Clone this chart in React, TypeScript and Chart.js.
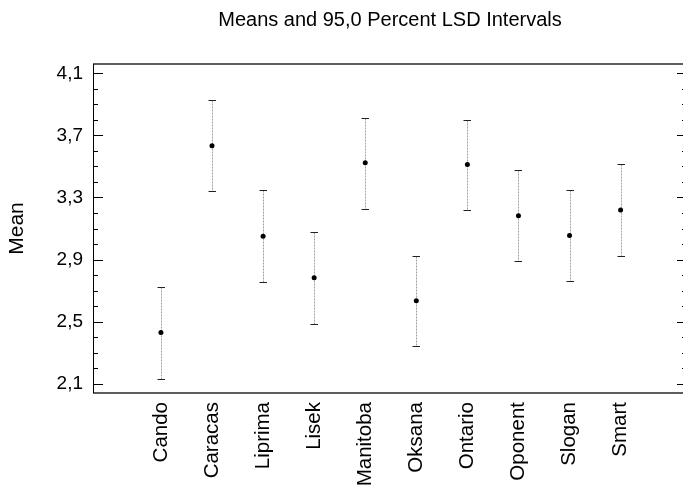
import React, { useEffect, useRef } from 'react';
import { Chart, registerables } from 'chart.js';

Chart.register(...registerables);

// ---- data ----
const categories = ['Cando', 'Caracas', 'Liprima', 'Lisek', 'Manitoba', 'Oksana', 'Ontario', 'Oponent', 'Slogan', 'Smart'];
const means = [2.43, 3.633, 3.05, 2.783, 3.523, 2.635, 3.512, 3.182, 3.055, 3.22];
const upperLimits = [2.72, 3.93, 3.345, 3.077, 3.815, 2.924, 3.802, 3.474, 3.35, 3.513];
const lowerLimits = [2.132, 3.339, 2.757, 2.487, 3.225, 2.341, 3.216, 2.89, 2.763, 2.924];
const yMajorTicks = [2.1, 2.5, 2.9, 3.3, 3.7, 4.1];
const yMinorPerMajor = 3;
const titleText = 'Means and 95,0 Percent LSD Intervals';
const yTitleText = 'Mean';

const FONT = '"Liberation Sans", Arial, Helvetica, sans-serif';

const isMajor = (v: number) => yMajorTicks.some((m) => Math.abs(m - v) < 1e-6);

const buildYTicks = () => {
  const out: { value: number }[] = [];
  for (let i = 0; i < yMajorTicks.length; i++) {
    out.push({ value: yMajorTicks[i] });
    if (i < yMajorTicks.length - 1) {
      const step = (yMajorTicks[i + 1] - yMajorTicks[i]) / (yMinorPerMajor + 1);
      for (let k = 1; k <= yMinorPerMajor; k++) out.push({ value: +(yMajorTicks[i] + step * k).toFixed(4) });
    }
  }
  return out;
};

const lsdPlugin = {
  id: 'lsdIntervals',
  beforeDatasetsDraw(chart: any) {
    const { ctx, scales } = chart;
    const x = scales.x;
    const y = scales.y;
    ctx.save();
    categories.forEach((_, i) => {
      const px = Math.round(x.getPixelForValue(i + 1)) + 0.5;
      const top = Math.round(y.getPixelForValue(upperLimits[i])) + 0.5;
      const bot = Math.round(y.getPixelForValue(lowerLimits[i])) + 0.5;
      ctx.strokeStyle = '#a0a0a0';
      ctx.lineWidth = 1;
      ctx.setLineDash([2, 1]);
      ctx.beginPath();
      ctx.moveTo(px, top);
      ctx.lineTo(px, bot);
      ctx.stroke();
      ctx.setLineDash([]);
      ctx.strokeStyle = '#222';
      ctx.beginPath();
      ctx.moveTo(px - 4, top);
      ctx.lineTo(px + 3.5, top);
      ctx.moveTo(px - 4, bot);
      ctx.lineTo(px + 3.5, bot);
      ctx.stroke();
    });
    ctx.restore();
  },
  afterDraw(chart: any) {
    const { ctx, chartArea, scales } = chart;
    const y = scales.y;
    const { left, right, top, bottom } = chartArea;
    ctx.save();
    // frame
    ctx.strokeStyle = '#2a2a2a';
    ctx.lineWidth = 1.5;
    ctx.beginPath();
    ctx.moveTo(left, top);
    ctx.lineTo(right, top);
    ctx.moveTo(left, bottom);
    ctx.lineTo(right, bottom);
    ctx.stroke();
    ctx.strokeStyle = '#000';
    ctx.lineWidth = 1;
    ctx.beginPath();
    ctx.moveTo(left + 0.5, top);
    ctx.lineTo(left + 0.5, bottom);
    ctx.moveTo(right - 0.5, top);
    ctx.lineTo(right - 0.5, bottom);
    ctx.stroke();
    // inward ticks on both sides
    y.ticks.forEach((t: any) => {
      const py = Math.round(y.getPixelForValue(t.value)) + 0.5;
      const len = isMajor(t.value) ? 10 : 5;
      ctx.strokeStyle = '#000';
      ctx.lineWidth = isMajor(t.value) ? 1.2 : 1;
      ctx.beginPath();
      ctx.moveTo(left, py);
      ctx.lineTo(left + len, py);
      ctx.moveTo(right, py);
      ctx.lineTo(right - len, py);
      ctx.stroke();
    });
    ctx.restore();
  },
};

export default function App() {
  const canvasRef = useRef<HTMLCanvasElement | null>(null);

  useEffect(() => {
    if (!canvasRef.current) return;
    const chart = new Chart(canvasRef.current, {
      type: 'scatter',
      data: {
        datasets: [
          {
            data: means.map((m, i) => ({ x: i + 1, y: m })),
            pointRadius: 2.5,
            pointHoverRadius: 2.5,
            pointBackgroundColor: '#000',
            pointBorderColor: '#000',
            pointBorderWidth: 0,
            showLine: false,
          },
        ],
      },
      options: {
        animation: false,
        responsive: false,
        events: [],
        layout: { padding: { left: 0, top: 0, right: 103, bottom: 0 } },
        plugins: {
          legend: { display: false },
          tooltip: { enabled: false },
          title: {
            display: true,
            fullSize: false,
            text: titleText,
            color: '#000',
            font: { family: FONT, size: 20, weight: 'normal' },
            padding: { top: 8, bottom: 32 },
          },
        },
        scales: {
          x: {
            type: 'linear',
            min: -0.33,
            max: 11.3,
            grid: { display: false, drawTicks: false },
            border: { display: false },
            afterBuildTicks: (scale: any) => {
              scale.ticks = categories.map((_, i) => ({ value: i + 1 }));
            },
            afterFit: (scale: any) => {
              scale.height = 97;
              scale.paddingLeft = 0;
              scale.paddingRight = 0;
            },
            ticks: {
              autoSkip: false,
              minRotation: 90,
              maxRotation: 90,
              padding: 9,
              color: '#000',
              font: { family: FONT, size: 20.5 },
              callback: (v: any) => categories[Math.round(Number(v)) - 1] ?? '',
            },
          },
          y: {
            type: 'linear',
            min: 2.04,
            max: 4.16,
            grid: { display: false, drawTicks: false },
            border: { display: false },
            afterBuildTicks: (scale: any) => {
              scale.ticks = buildYTicks();
            },
            afterFit: (scale: any) => {
              scale.width = 93;
              scale.paddingTop = 0;
              scale.paddingBottom = 0;
            },
            title: {
              display: true,
              text: yTitleText,
              color: '#000',
              font: { family: FONT, size: 21 },
              padding: { top: 5, bottom: 0 },
            },
            ticks: {
              autoSkip: false,
              padding: 10,
              color: '#000',
              font: { family: FONT, size: 19 },
              callback: (v: any) => (isMajor(Number(v)) ? Number(v).toFixed(1).replace('.', ',') : ''),
            },
          },
        },
      } as any,
      plugins: [lsdPlugin],
    });
    return () => chart.destroy();
  }, []);

  return (
    <div style={{ position: 'fixed', left: 0, top: 0, width: 683, height: 490, overflow: 'hidden', background: '#fff' }}>
      <canvas ref={canvasRef} width={790} height={490} style={{ display: 'block', width: 790, height: 490 }} />
    </div>
  );
}
